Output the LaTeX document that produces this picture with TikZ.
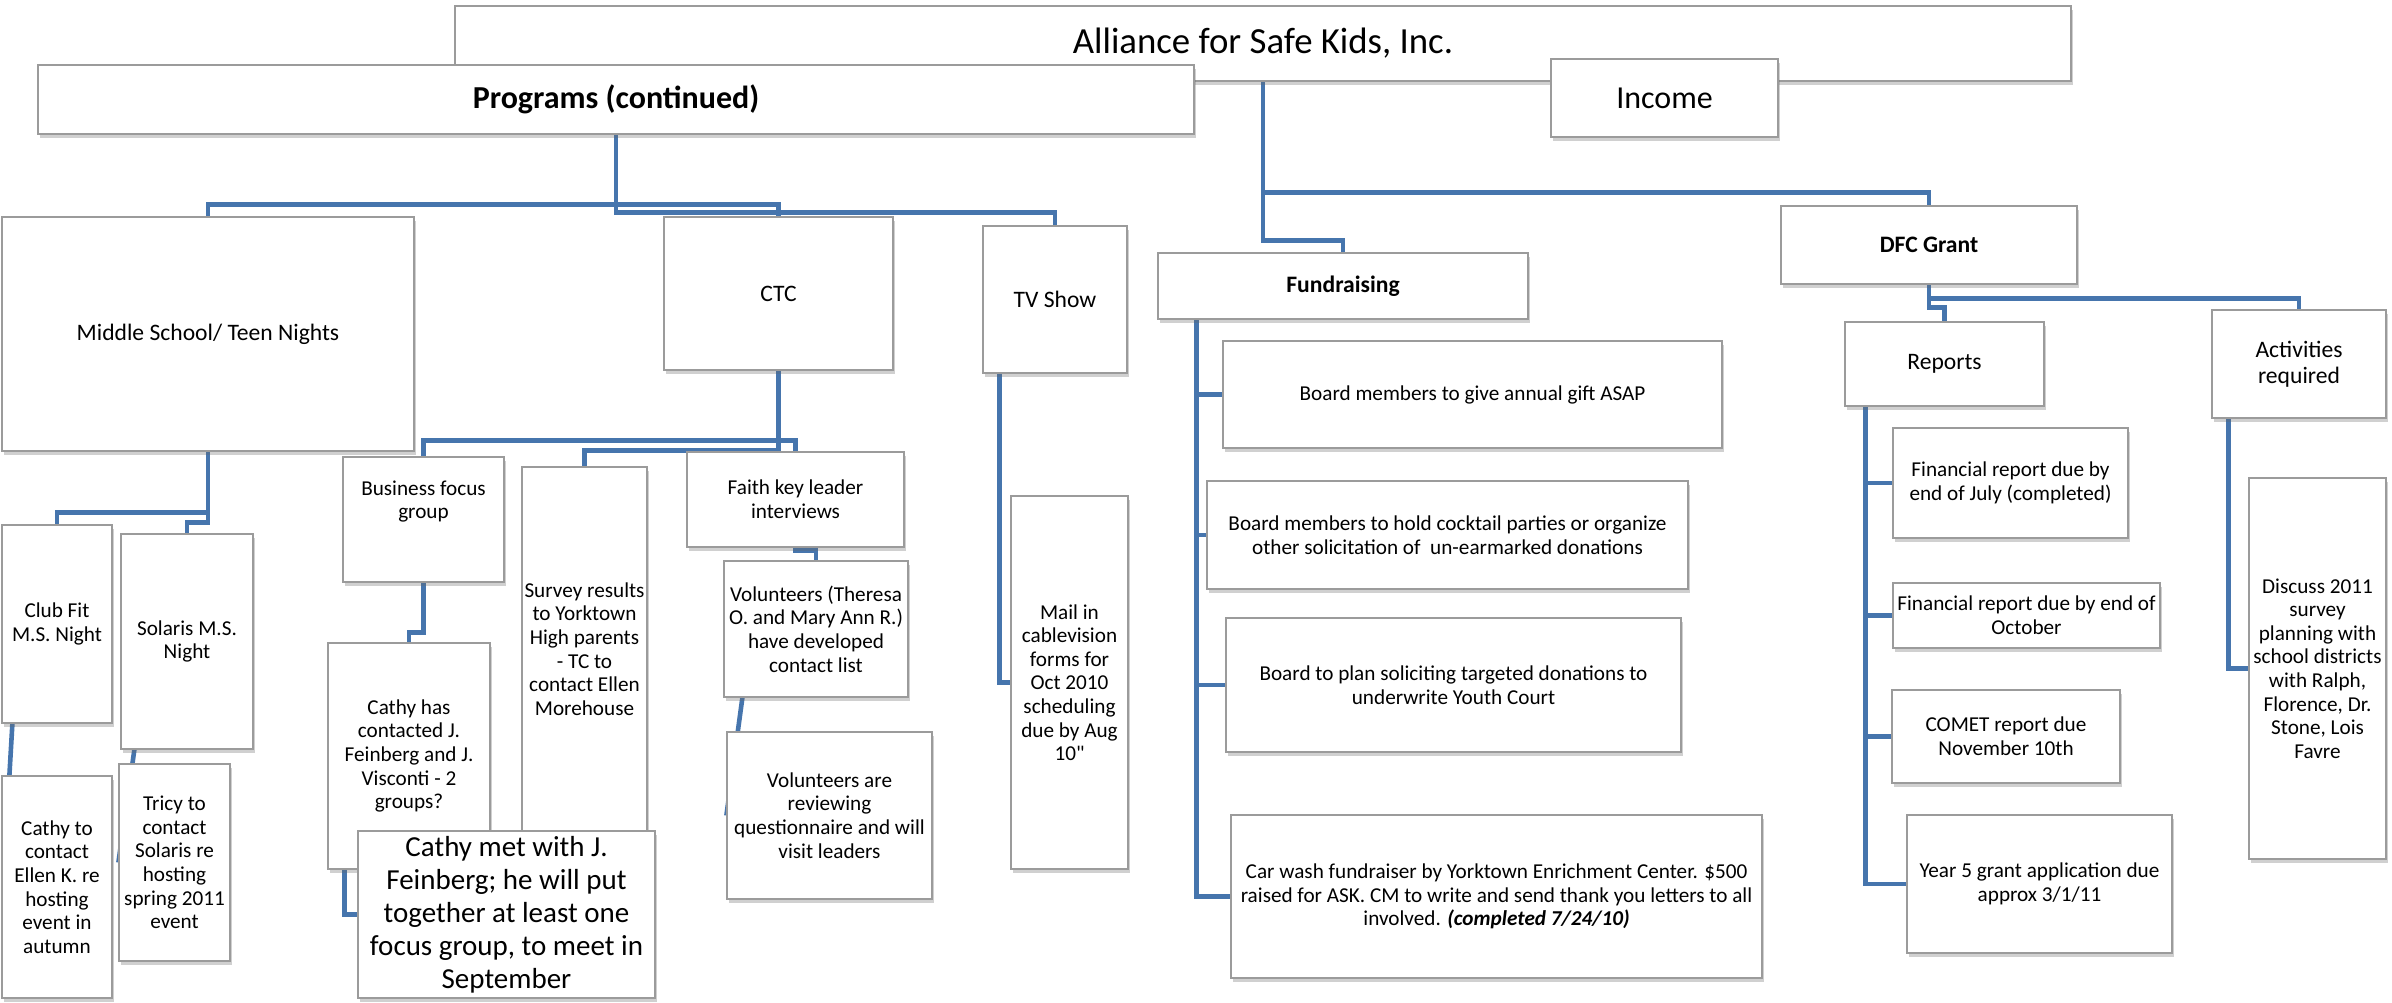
\documentclass[tikz,border=0pt]{standalone}
\usepackage{fontspec}
\setmainfont{Carlito}
\usepackage{tikz}
\usetikzlibrary{positioning,calc,shadows,backgrounds}
\definecolor{linkblue}{RGB}{70,117,173}
\definecolor{boxgray}{RGB}{155,155,155}
\newcommand{\straightquote}{\XeTeXglyph\XeTeXcharglyph"0022\relax}

\begin{document}
\begin{tikzpicture}[
  x=0.5pt, y=-0.5pt,
  dims/.style 2 args={minimum width=#1pt, minimum height=#2pt},
  box/.style={draw=boxgray, fill=white, line width=0.6pt, align=center, inner sep=1pt,
    font=\fontsize{10.6}{11.8}\selectfont,
    drop shadow={shadow xshift=1.2pt, shadow yshift=-1.8pt, fill=black!60, opacity=0.3}},
  headbox/.style={box, font=\fontsize{11.8}{13.2}\selectfont},
  boldhead/.style={box, font=\fontsize{11.8}{13.2}\selectfont\bfseries},
  link/.style={draw=linkblue, line width=2.3pt}
]
\useasboundingbox (0,0) rectangle (2392,1002);

\node[box, font=\fontsize{18.4}{22}\selectfont, dims={808}{37.5}] (title) at (1263,43.5) {Alliance for Safe Kids, Inc.};
\node[box, font=\fontsize{16}{19}\selectfont\bfseries, dims={578}{34.5}] (prog) at (616,99.5) {Programs (continued)};
\node[box, font=\fontsize{16}{19}\selectfont, dims={113.5}{39}] (income) at (1664.5,98) {Income};

\node[headbox, dims={206}{117}] (ms) at (208,334) {Middle School/ Teen Nights};
\node[headbox, dims={114.5}{76.5}] (ctc) at (778.5,293.5) {CTC};
\node[headbox, dims={72}{73.5}] (tv) at (1055,299.5) {TV Show};
\node[boldhead, dims={185}{33}] (fund) at (1343,286) {Fundraising};
\node[boldhead, dims={148}{39}] (dfc) at (1929,245) {DFC Grant};
\node[headbox, dims={99.5}{42}] (reports) at (1944.5,364) {Reports};
\node[headbox, dims={87}{54}] (activ) at (2299,364) {Activities\\required};

\node[box, dims={55}{99}] (clubfit) at (57,624) {Club Fit\\M.S. Night};
\node[box, dims={66}{107.5}] (solaris) at (187,641.5) {Solaris M.S.\\Night};
\node[box, dims={55}{111}] (cathyto) at (57,887) {Cathy to\\contact\\Ellen K. re\\hosting\\event in\\autumn};
\node[box, dims={55.5}{98.5}] (tricy) at (174.5,862.5) {Tricy to\\contact\\Solaris re\\hosting\\spring 2011\\event};

\node[box, dims={80.5}{62.5}] (business) at (423.5,519.5) {Business focus\\group\\[8pt]};
\node[box, dims={62.5}{182}] (survey) at (584.5,649) {Survey results\\to Yorktown\\High parents\\- TC to\\contact Ellen\\Morehouse};
\node[box, dims={108.5}{47.5}] (faith) at (795.5,499.5) {Faith key leader\\interviews};
\node[box, dims={81}{113}] (cathyhas) at (409,756) {Cathy has\\contacted J.\\Feinberg and J.\\Visconti - 2\\groups?};
\node[box, font=\fontsize{14.5}{16.5}\selectfont, dims={148.5}{83.5}] (cathymet) at (506.5,914.5) {Cathy met with J.\\Feinberg; he will put\\together at least one\\focus group, to meet in\\September};
\node[box, dims={92}{68}] (vol1) at (816,629) {Volunteers (Theresa\\O. and Mary Ann R.)\\have developed\\contact list};
\node[box, dims={102.5}{83.5}] (vol2) at (829.5,815.5) {Volunteers are\\reviewing\\questionnaire and will\\visit leaders};

\node[box, dims={58.5}{186.5}] (mail) at (1069.5,682.5) {Mail in\\cablevision\\forms for\\Oct 2010\\scheduling\\due by Aug\\10\straightquote};

\node[box, dims={249.5}{53.5}] (gift) at (1472.5,394.5) {Board members to give annual gift ASAP};
\node[box, dims={240.5}{54}] (cocktail) at (1447.5,535) {Board members to hold cocktail parties or organize\\other solicitation of\ \ un-earmarked donations};
\node[box, dims={227.5}{67}] (youth) at (1453.5,685) {Board to plan soliciting targeted donations to\\underwrite Youth Court};
\node[box, dims={265.5}{81.5}] (carwash) at (1496.5,896.5) {Car wash fundraiser by Yorktown Enrichment Center. \$500\\raised for ASK. CM to write and send thank you letters to all\\involved. \textbf{\textit{(completed 7/24/10)}}};

\node[box, dims={117.5}{55}] (finjul) at (2010.5,483) {Financial report due by\\end of July (completed)};
\node[box, dims={133.5}{32.5}] (finoct) at (2026.5,615.5) {Financial report due by end of\\October};
\node[box, dims={114}{46.5}] (comet) at (2006,736.5) {COMET report due\\November 10th};
\node[box, dims={132.5}{69}] (year5) at (2039.5,884) {Year 5 grant application due\\approx 3/1/11};
\node[box, dims={68.5}{190.5}] (discuss) at (2317.5,668.5) {Discuss 2011\\survey\\planning with\\school districts\\with Ralph,\\Florence, Dr.\\Stone, Lois\\Favre};

\begin{scope}[on background layer]
\fill[white] (0,0) rectangle (2392,1002);
\draw[link] (prog.south) -- ++(0,70) -| (ms.north);
\draw[link] (prog.south) -- ++(0,70) -| (ctc.north);
\draw[link] (prog.south) -- ++(0,78) -| (tv.north);
\draw[link] (title.south) -- ++(0,159) -| (fund.north);
\draw[link] (title.south) -- ++(0,111) -| (dfc.north);
\draw[link] (dfc.south) -- ++(0,23) -| (reports.north);
\draw[link] (dfc.south) -- ++(0,14) -| (activ.north);

\draw[link] (ms.south) -- ++(0,61) -| (clubfit.north);
\draw[link] (ms.south) -- ++(0,71) -| (solaris.north);
\draw[link] ($(clubfit.south west)+(11,0)$) -- ($(cathyto.north west)+(8,0)$);
\draw[link] ($(solaris.south west)+(14,0)$) -- (tricy.west);

\draw[link] (ctc.south) -- ++(0,70) -| (business.north);
\draw[link] (ctc.south) -- ++(0,70) -| (faith.north);
\draw[link] (ctc.south) -- ++(0,80) -| (survey.north);
\draw[link] (business.south) -- ++(0,50) -| (cathyhas.north);
\draw[link] ($(cathyhas.south west)+(17,0)$) |- (cathymet.west);
\draw[link] (faith.south) -- ++(0,3) -| (vol1.north);
\draw[link] ($(vol1.south west)+(19,0)$) -- (vol2.west);

\draw[link] ($(tv.south west)+(17,0)$) |- (mail.west);

\draw[link] ($(fund.south west)+(39,0)$) |- (gift.west);
\draw[link] ($(fund.south west)+(39,0)$) |- (cocktail.west);
\draw[link] ($(fund.south west)+(39,0)$) |- (youth.west);
\draw[link] ($(fund.south west)+(39,0)$) |- (carwash.west);

\draw[link] ($(reports.south west)+(21,0)$) |- (finjul.west);
\draw[link] ($(reports.south west)+(21,0)$) |- (finoct.west);
\draw[link] ($(reports.south west)+(21,0)$) |- (comet.west);
\draw[link] ($(reports.south west)+(21,0)$) |- (year5.west);
\draw[link] ($(activ.south west)+(17,0)$) |- (discuss.west);
\end{scope}
\end{tikzpicture}
\end{document}
